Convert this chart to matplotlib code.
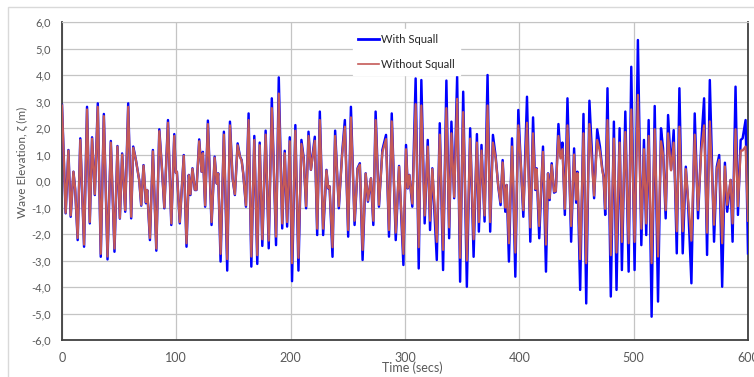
import matplotlib
matplotlib.use("Agg")
import matplotlib.pyplot as plt
from matplotlib.ticker import FuncFormatter, MultipleLocator
from matplotlib.patches import Rectangle

# Wave elevation time series: turning points read at each crest/trough (seconds, metres)
time_s = [
    0.0, 3.2, 5.6, 7.6, 10.0, 11.5, 13.7, 16.0, 19.3, 21.9,
    24.3, 26.3, 28.7, 31.3, 33.9, 36.6, 39.8, 42.7, 45.9, 48.5,
    50.6, 52.6, 55.3, 57.9, 60.5, 62.3, 64.6, 67.5, 69.3, 71.3,
    73.4, 74.5, 76.9, 79.5, 82.5, 85.1, 87.4, 89.5, 92.7, 95.6,
    98.2, 99.5, 100.5, 103.0, 106.5, 108.9, 110.9, 112.3, 114.1, 116.2,
    117.6, 120.0, 122.1, 123.2, 125.2, 127.6, 130.8, 133.5, 135.4, 136.6,
    138.7, 141.6, 144.5, 146.9, 149.2, 151.2, 153.6, 155.7, 157.1, 158.5,
    160.9, 163.2, 165.6, 168.2, 170.8, 172.9, 175.2, 178.1, 180.8, 183.5,
    187.2, 189.6, 192.6, 194.8, 196.9, 199.2, 201.2, 204.1, 206.8, 209.4,
    211.4, 213.5, 215.6, 217.7, 221.1, 223.2, 225.5, 228.4, 231.3, 232.8,
    234.0, 236.6, 238.9, 242.1, 245.0, 247.4, 250.3, 252.7, 255.9, 258.5,
    260.5, 262.9, 265.6, 267.6, 270.2, 272.3, 274.3, 277.2, 280.2, 283.4,
    286.0, 288.4, 291.9, 294.8, 298.6, 300.9, 302.4, 303.8, 306.4, 309.3,
    312.0, 314.3, 317.2, 319.9, 321.9, 323.9, 327.8, 330.4, 333.3, 336.2,
    338.6, 340.6, 343.0, 345.6, 348.2, 350.9, 354.1, 357.0, 360.0, 362.9,
    364.6, 366.9, 369.6, 372.2, 374.5, 376.9, 379.3, 381.6, 383.6, 385.4,
    387.7, 388.9, 390.9, 393.6, 396.5, 399.1, 401.0, 403.5, 406.7, 409.6,
    412.0, 414.0, 415.1, 417.4, 420.7, 423.3, 425.1, 426.5, 428.3, 430.4,
    431.9, 434.2, 436.0, 437.7, 439.8, 442.1, 445.3, 447.9, 449.7, 450.8,
    453.2, 456.1, 458.5, 461.3, 465.4, 468.1, 470.5, 472.5, 473.7, 475.1,
    477.1, 480.0, 482.7, 485.0, 487.7, 489.7, 492.7, 495.6, 497.9, 500.8,
    503.7, 506.7, 509.0, 511.0, 513.1, 515.7, 518.4, 521.3, 523.9, 525.7,
    528.0, 530.1, 532.7, 535.0, 537.7, 540.0, 542.9, 545.6, 547.6, 550.5,
    553.4, 556.3, 559.2, 561.6, 564.2, 566.6, 570.3, 572.7, 574.8, 577.4,
    579.8, 581.8, 584.8, 586.5, 589.1, 591.2, 593.6, 595.3, 597.9, 600.0,
]

with_squall = [
    2.87, -1.22, 1.17, -1.35, 0.35, -0.30, -2.23, 1.61, -2.48, 2.80,
    -1.60, 1.65, -0.53, 2.93, -2.86, 2.53, -2.96, 1.51, -2.67, 1.32,
    -1.42, 1.04, -1.16, 2.93, -1.41, 1.30, 0.80, 0.04, -0.93, 0.60,
    -0.84, -0.34, -2.23, 1.17, -2.63, 1.95, 0.48, -1.03, 2.30, -1.66,
    1.77, 0.32, 0.35, -1.60, 0.98, -2.48, 0.23, -0.53, 0.48, -0.34,
    -0.34, 1.57, 0.35, 1.10, -0.97, 2.28, -1.66, 0.92, -0.10, 0.29,
    -3.04, 1.86, -3.38, 2.24, 0.10, -0.53, 1.42, 0.92, 0.79, 0.29,
    -0.97, 2.55, -3.23, 1.70, -3.13, 1.45, -2.45, 1.90, -2.54, 3.12,
    -2.42, 3.91, -1.79, 1.14, -1.72, 1.65, -3.78, 2.11, -3.38, 1.55,
    0.86, -1.03, 1.86, 0.42, 1.67, -2.04, 2.62, -2.04, 0.42, -0.28,
    -0.20, -2.86, 1.90, -1.03, 1.04, 2.30, -2.10, 2.80, -1.66, 0.48,
    0.67, -2.98, 0.29, -0.78, 0.10, -1.66, 2.62, -0.97, 1.17, 1.74,
    -2.10, 2.55, -2.23, 0.57, -3.17, 1.36, -0.28, 0.23, -0.97, 3.87,
    -3.30, 3.81, -1.60, 1.55, -1.85, 0.48, -2.98, 2.18, -3.36, 3.79,
    -2.16, 2.24, -0.65, 3.94, -3.80, 3.37, -3.99, 1.99, -2.86, 1.77,
    -1.91, 1.36, -1.53, 4.00, -1.91, 1.74, 0.92, -0.21, -0.91, 0.79,
    -1.16, -0.15, -3.04, 1.61, -3.61, 2.68, 0.90, -1.35, 3.18, -2.29,
    2.40, -0.34, 0.48, -2.16, 1.30, -3.42, 0.29, -0.72, 0.67, -0.44,
    -0.40, 2.15, 0.92, 1.45, -1.28, 3.12, -2.29, 1.23, -0.82, 0.35,
    -4.11, 2.53, -4.62, 3.03, -0.65, 1.95, 1.30, 0.48, 0.16, -1.28,
    3.50, -4.36, 2.24, -4.11, 1.99, -3.36, 2.62, -3.42, 4.31, -3.36,
    5.32, -2.42, 1.55, -2.04, 2.30, -5.12, 2.83, -4.55, 1.99, 1.23,
    -1.41, 2.49, 0.42, 1.92, -2.73, 3.50, -2.73, 0.54, -0.84, -3.86,
    2.55, -1.41, 1.48, 3.12, -2.79, 3.81, -2.29, 0.54, 0.98, -3.99,
    0.69, -1.16, 0.04, -2.29, 3.56, -1.28, 1.55, 1.61, 2.30, -2.73,
]

without_squall = [
    2.85, -1.20, 1.15, -1.30, 0.35, -0.30, -2.15, 1.55, -2.40, 2.70,
    -1.55, 1.60, -0.50, 2.80, -2.75, 2.45, -2.85, 1.45, -2.55, 1.30,
    -1.40, 1.00, -1.10, 2.80, -1.35, 1.25, 0.80, 0.04, -0.90, 0.58,
    -0.80, -0.34, -2.15, 1.12, -2.55, 1.88, 0.48, -1.00, 2.20, -1.60,
    1.70, 0.32, 0.35, -1.55, 0.95, -2.35, 0.22, -0.50, 0.46, -0.33,
    -0.33, 1.50, 0.35, 1.05, -0.92, 2.15, -1.55, 0.88, -0.10, 0.28,
    -2.75, 1.75, -2.95, 2.10, 0.10, -0.50, 1.35, 0.90, 0.77, 0.28,
    -0.92, 2.30, -2.85, 1.55, -2.80, 1.35, -2.20, 1.75, -2.25, 2.75,
    -2.10, 3.30, -1.60, 1.05, -1.55, 1.50, -3.10, 1.90, -2.90, 1.40,
    0.82, -0.95, 1.70, 0.42, 1.52, -1.80, 2.30, -1.80, 0.40, -0.26,
    -0.20, -2.50, 1.70, -0.95, 0.98, 2.05, -1.85, 2.40, -1.50, 0.45,
    0.62, -2.60, 0.28, -0.74, 0.10, -1.50, 2.30, -0.90, 1.08, 1.58,
    -1.85, 2.25, -1.95, 0.54, -2.75, 1.20, -0.26, 0.22, -0.85, 2.90,
    -2.50, 2.85, -1.30, 1.30, -1.50, 0.45, -2.30, 1.75, -2.60, 2.75,
    -1.75, 1.80, -0.60, 3.10, -2.90, 2.60, -3.00, 1.60, -2.20, 1.45,
    -1.55, 1.15, -1.30, 2.85, -1.55, 1.45, 0.85, -0.20, -0.80, 0.70,
    -1.00, -0.15, -2.35, 1.30, -2.70, 2.10, 0.85, -1.10, 2.20, -1.75,
    1.80, -0.30, 0.45, -1.70, 1.10, -2.40, 0.28, -0.65, 0.60, -0.40,
    -0.38, 1.70, 0.85, 1.20, -1.05, 2.10, -1.70, 1.00, -0.70, 0.30,
    -2.95, 1.80, -3.10, 2.15, -0.55, 1.55, 1.10, 0.42, 0.15, -1.05,
    2.30, -2.80, 1.60, -2.70, 1.45, -2.30, 1.85, -2.35, 2.70, -2.30,
    3.25, -1.80, 1.20, -1.60, 1.70, -3.10, 1.95, -2.85, 1.50, 1.00,
    -1.10, 1.80, 0.40, 1.45, -1.90, 2.05, -1.90, 0.45, -0.70, -2.25,
    1.75, -1.10, 1.20, 2.10, -1.95, 2.25, -1.65, 0.45, 0.80, -2.35,
    0.55, -0.90, 0.04, -1.60, 1.95, -0.95, 1.15, 1.15, 1.30, -1.50,
]

text_color = "#595959"
grid_color = "#c4c4c4"
font_main = ["Lato", "DejaVu Sans"]
font_narrow = ["Liberation Sans Narrow", "Lato", "DejaVu Sans"]

fig = plt.figure(figsize=(7.54, 3.77), dpi=100)
fig.patch.set_facecolor("white")

# light chart-area border (left and top edges fall inside the canvas)
fig.patches.append(Rectangle((8 / 754, -0.1), 1.0, 1.1 - 7 / 377,
                             transform=fig.transFigure, fill=False,
                             edgecolor="#d9d9d9", linewidth=1.0))

ax = fig.add_axes([62 / 754, 1 - 340 / 377, (748 - 62) / 754, (340 - 22) / 377])

ax.plot(time_s, with_squall, color="#0000ff", linewidth=1.75, label="With Squall", zorder=3)
ax.plot(time_s, without_squall, color="#c55a57", linewidth=1.6, label="Without Squall", zorder=4)

ax.set_xlim(0, 600)
ax.set_ylim(-6, 6)
ax.xaxis.set_major_locator(MultipleLocator(100))
ax.yaxis.set_major_locator(MultipleLocator(1))
ax.yaxis.set_major_formatter(FuncFormatter(lambda v, pos: f"{v:.1f}".replace(".", ",")))

ax.grid(True, color=grid_color, linewidth=0.9)
ax.set_axisbelow(True)
for side in ["left", "bottom", "right"]:
    ax.spines[side].set_color("#404040")
    ax.spines[side].set_linewidth(1.3)
ax.spines["top"].set_color(grid_color)

ax.tick_params(axis="both", length=0, colors=text_color)
ax.tick_params(axis="y", pad=8)
ax.tick_params(axis="x", pad=9)
for lbl in ax.get_yticklabels():
    lbl.set_family(font_main)
    lbl.set_fontsize(8)
for lbl in ax.get_xticklabels():
    lbl.set_family(font_narrow)
    lbl.set_fontsize(9)

fig.text(22 / 754, 1 - 162 / 377, "Wave Elevation, \u03b6 (m)", rotation=90,
         ha="center", va="center", fontsize=8.5, color=text_color, family=font_main)
fig.text(412 / 754, 1 - 368 / 377, "Time (secs)", ha="center", va="center",
         fontsize=9, color=text_color, family=font_narrow)

leg = ax.legend(loc="upper left", bbox_to_anchor=(353 / 754, 1 - 29 / 377),
                bbox_transform=fig.transFigure, borderaxespad=0, frameon=True,
                fancybox=False, edgecolor="white", facecolor="white", framealpha=1,
                prop={"family": font_main, "size": 8}, handlelength=1.9,
                handletextpad=0.2, labelspacing=1.25, borderpad=0.45)
leg.get_lines()[0].set_linewidth(2.0)
leg.get_lines()[1].set_linewidth(1.2)
for t in leg.get_texts():
    t.set_color("#262626")

fig.savefig("out.png", dpi=100)
